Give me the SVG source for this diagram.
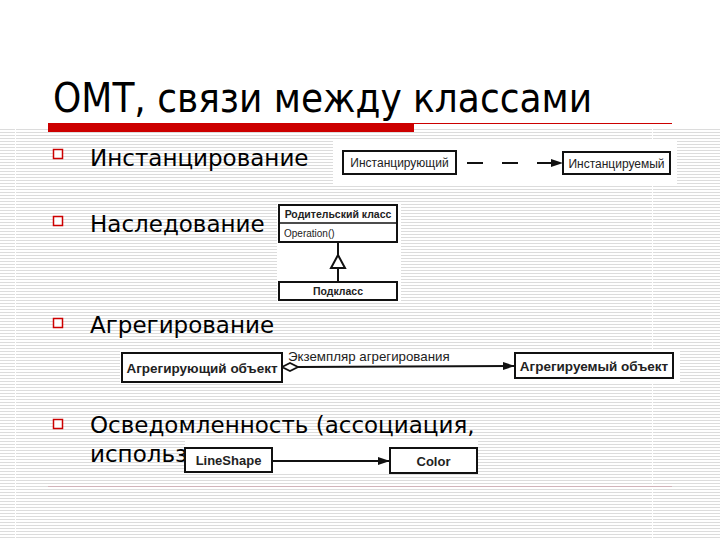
<svg xmlns="http://www.w3.org/2000/svg" width="720" height="540" viewBox="0 0 720 540">
<defs>
<pattern id="stripes" x="0" y="129" width="4" height="3" patternUnits="userSpaceOnUse"><rect width="4" height="1" fill="#dcdcdc"/></pattern>
<marker id="arrow" markerUnits="userSpaceOnUse" markerWidth="13" markerHeight="9" refX="12" refY="4" orient="auto"><path d="M0,0 L12,4 L0,8 z" fill="#111"/></marker>
</defs>
<style>
.title{font-family:"DejaVu Sans Condensed","DejaVu Sans",sans-serif;font-size:40px;fill:#000}
.body{font-family:"DejaVu Sans",sans-serif;font-size:23px;fill:#000}
.bullet{fill:#fff;stroke:#c00;stroke-width:1.5}
.box{fill:#fff;stroke:#111;stroke-width:2}
.lbl{font-family:"Liberation Sans",Arial,sans-serif;font-size:12px;fill:#222;text-anchor:middle}
.bold{font-weight:bold}
.edge{fill:none;stroke:#111;stroke-width:2}
.white{fill:#fff}
</style>
<rect width="720" height="540" fill="#fff"/>
<g id="background">
<rect x="0" y="129" width="720" height="411" fill="url(#stripes)"/>
<line x1="15.5" y1="129" x2="15.5" y2="540" stroke="#fff" stroke-width="1"/>
<line x1="652.5" y1="129" x2="652.5" y2="540" stroke="#fff" stroke-width="1"/>
<line x1="48" y1="123.5" x2="672" y2="123.5" stroke="#c00" stroke-width="1"/>
<rect x="48" y="123" width="366" height="9" fill="#c00"/>
<line x1="48" y1="486.5" x2="672" y2="486.5" stroke="#d2b4bb" stroke-width="1"/>
</g>
<text class="title" x="53" y="112">ОМТ, связи между классами</text>
<g id="bullets">
<rect class="bullet" x="53.5" y="149.5" width="9" height="9"/>
<text class="body" x="90" y="166">Инстанцирование</text>
<rect class="bullet" x="53.5" y="216.5" width="9" height="9"/>
<text class="body" x="90" y="232">Наследование</text>
<rect class="bullet" x="53.5" y="318.5" width="9" height="9"/>
<text class="body" x="90" y="333">Агрегирование</text>
<rect class="bullet" x="53.5" y="419.5" width="9" height="9"/>
<text class="body" x="90" y="433">Осведомленность (ассоциация,</text>
<text class="body" x="90" y="462">использование)</text>
</g>
<g id="image-backs">
<rect class="white" x="333" y="141" width="344" height="45"/>
<rect class="white" x="277" y="203" width="124" height="98"/>
<rect class="white" x="120" y="350" width="560" height="34"/>
<rect class="white" x="185" y="441" width="293" height="33"/>
</g>
<g id="connectors">
<line class="edge" x1="467" y1="163" x2="563" y2="163" stroke-dasharray="16 19" marker-end="url(#arrow)"/>
<line class="edge" x1="338" y1="282" x2="338" y2="268"/>
<polygon points="331,268 345,268 338,255" fill="#fff" stroke="#111" stroke-width="2"/>
<line class="edge" x1="338" y1="255" x2="338" y2="242"/>
<polygon points="282,367 290,363 298,367 290,371" fill="#fff" stroke="#111" stroke-width="1.8"/>
<line class="edge" x1="298" y1="367" x2="515" y2="366" marker-end="url(#arrow)"/>
<text x="288" y="361" style="font-family:'Liberation Sans',Arial,sans-serif;font-size:13.3px;fill:#222">Экземпляр агрегирования</text>
<line class="edge" x1="272" y1="461" x2="390" y2="461" marker-end="url(#arrow)"/>
</g>
<g id="instantiating">
<rect class="box" x="343" y="151" width="113" height="23"/>
<text class="lbl" x="399.5" y="167">Инстанцирующий</text>
</g>
<g id="instantiated">
<rect class="box" x="563" y="152" width="107" height="22"/>
<text class="lbl" x="616.5" y="167.5">Инстанцируемый</text>
</g>
<g id="parent-class">
<rect class="box" x="279" y="205" width="118" height="37"/>
<line x1="279" y1="223" x2="397" y2="223" stroke="#111" stroke-width="1.5"/>
<text class="lbl bold" x="338" y="218" style="font-size:10.5px">Родительский класс</text>
<text class="lbl" x="284" y="236.5" style="font-size:10px;text-anchor:start">Operation()</text>
</g>
<g id="subclass">
<rect class="box" x="279" y="282" width="118" height="18"/>
<text class="lbl bold" x="338" y="295" style="font-size:10.5px">Подкласс</text>
</g>
<g id="aggregating">
<rect class="box" x="122" y="353" width="160" height="29"/>
<text class="lbl bold" x="202" y="372.5" style="font-size:13.5px">Агрегирующий объект</text>
</g>
<g id="aggregated">
<rect class="box" x="515" y="353" width="158" height="25"/>
<text class="lbl bold" x="594" y="370.5" style="font-size:13.5px">Агрегируемый объект</text>
</g>
<g id="lineshape">
<rect class="box" x="185" y="448" width="87" height="24"/>
<text class="lbl bold" x="228.5" y="465" style="font-size:13px">LineShape</text>
</g>
<g id="color">
<rect class="box" x="390" y="448" width="87" height="25"/>
<text class="lbl bold" x="433.5" y="465.5" style="font-size:13px">Color</text>
</g>
</svg>
